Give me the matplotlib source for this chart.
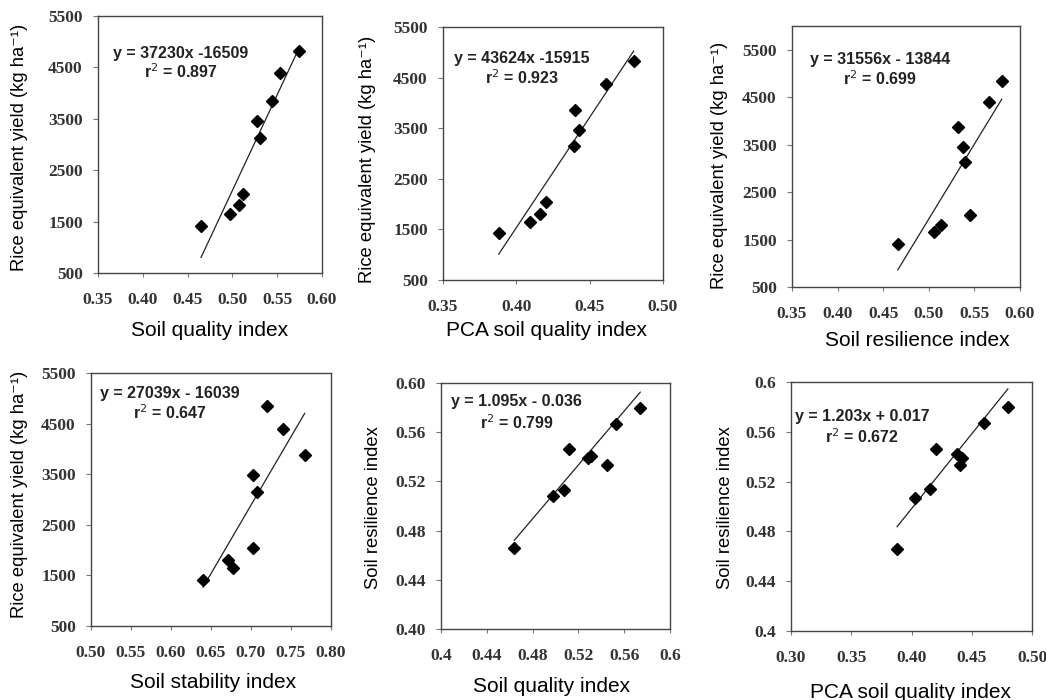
import matplotlib
matplotlib.use("Agg")
import matplotlib.pyplot as plt
import numpy as np
from matplotlib.ticker import FixedLocator, FixedFormatter

# ---------------- data ----------------
p1_x = [0.465, 0.497, 0.507, 0.512, 0.528, 0.531, 0.544, 0.553, 0.574]
p1_y = [1420, 1653, 1815, 2035, 3460, 3123, 3855, 4386, 4820]
p1_fit = (37230, -16509)
p1_eq = ["y = 37230x -16509", "r$^2$ = 0.897"]

p2_x = [0.388, 0.409, 0.416, 0.420, 0.443, 0.439, 0.440, 0.461, 0.480]
p2_y = [1423, 1654, 1806, 2050, 3455, 3139, 3864, 4372, 4820]
p2_fit = (43624, -15915)
p2_eq = ["y = 43624x -15915", "r$^2$ = 0.923"]

p3_x = [0.466, 0.506, 0.513, 0.545, 0.537, 0.540, 0.532, 0.566, 0.580]
p3_y = [1413, 1652, 1806, 2024, 3449, 3126, 3871, 4390, 4833]
p3_fit = (31556, -13844)
p3_eq = ["y = 31556x - 13844", "r$^2$ = 0.699"]

p4_x = [0.640, 0.6775, 0.671, 0.702, 0.702, 0.707, 0.767, 0.740, 0.720]
p4_y = [1408, 1645, 1803, 2033, 3480, 3151, 3875, 4401, 4842]
p4_fit = (27039, -16039)
p4_eq = ["y = 27039x - 16039", "r$^2$ = 0.647"]

p5_x = [0.464, 0.498, 0.507, 0.512, 0.528, 0.531, 0.545, 0.553, 0.574]
p5_y = [0.466, 0.508, 0.513, 0.546, 0.539, 0.541, 0.533, 0.567, 0.580]
p5_fit = (1.095, -0.036)
p5_eq = ["y = 1.095x - 0.036", "r$^2$ = 0.799"]

p6_x = [0.388, 0.403, 0.415, 0.420, 0.438, 0.442, 0.440, 0.460, 0.480]
p6_y = [0.466, 0.507, 0.514, 0.546, 0.542, 0.539, 0.533, 0.567, 0.580]
p6_fit = (1.203, 0.017)
p6_eq = ["y = 1.203x + 0.017", "r$^2$ = 0.672"]

yield_ticks = [500, 1500, 2500, 3500, 4500, 5500]
yield_labels = ["500", "1500", "2500", "3500", "4500", "5500"]
x_sqi_ticks = [0.35, 0.40, 0.45, 0.50, 0.55, 0.60]
x_sqi_labels = ["0.35", "0.40", "0.45", "0.50", "0.55", "0.60"]
x_pca_ticks = [0.35, 0.40, 0.45, 0.50]
x_pca_labels = ["0.35", "0.40", "0.45", "0.50"]
x_stab_ticks = [0.50, 0.55, 0.60, 0.65, 0.70, 0.75, 0.80]
x_stab_labels = ["0.50", "0.55", "0.60", "0.65", "0.70", "0.75", "0.80"]
sri_ticks = [0.40, 0.44, 0.48, 0.52, 0.56, 0.60]
sri_labels5 = ["0.40", "0.44", "0.48", "0.52", "0.56", "0.60"]
sri_labels6 = ["0.4", "0.44", "0.48", "0.52", "0.56", "0.6"]
x5_ticks = [0.40, 0.44, 0.48, 0.52, 0.56, 0.60]
x5_labels = ["0.4", "0.44", "0.48", "0.52", "0.56", "0.6"]
x6_ticks = [0.30, 0.35, 0.40, 0.45, 0.50]
x6_labels = ["0.30", "0.35", "0.40", "0.45", "0.50"]

ylab_yield = "Rice equivalent yield (kg ha\u207b\u00b9)"
ylab_sri = "Soil resilience index"

# ---------------- figure ----------------
W, H = 1046, 700
fig = plt.figure(figsize=(W / 100, H / 100), dpi=100)

TICK_FAMILY = "Liberation Serif"
XLABELFONT = dict(family=["Liberation Sans", "DejaVu Sans"], size=15, color="black")
YLABELFONT = dict(family=["Liberation Sans", "DejaVu Sans"], size=13.2, color="black")
EQFONT = dict(family=["Liberation Sans Narrow", "Liberation Sans"], weight="bold", size=11.5, color="#222222")


def px_axes(l, t, r, b):
    return fig.add_axes([l / W, 1 - b / H, (r - l) / W, (b - t) / H])


def panel(box, x, y, fit, eq, xlim, ylim, xt, xtl, yt, ytl, xlabel, ylabel,
          eq_pos, xlab_px, ylab_px):
    l, t, r, b = box
    ax = px_axes(l, t, r, b)
    ax.set_xlim(*xlim)
    ax.set_ylim(*ylim)
    ax.xaxis.set_major_locator(FixedLocator(xt))
    ax.xaxis.set_major_formatter(FixedFormatter(xtl))
    ax.yaxis.set_major_locator(FixedLocator(yt))
    ax.yaxis.set_major_formatter(FixedFormatter(ytl))
    for lab in ax.get_xticklabels():
        lab.set_fontfamily(TICK_FAMILY)
        lab.set_fontweight("bold")
        lab.set_fontsize(12.5)
        lab.set_color("#333333")
    for lab in ax.get_yticklabels():
        lab.set_fontfamily(TICK_FAMILY)
        lab.set_fontweight("bold")
        lab.set_fontsize(12.5)
        lab.set_color("#333333")
    ax.tick_params(axis="x", direction="out", length=3, width=0.8, color="#777777", pad=11)
    ax.tick_params(axis="y", direction="out", length=3.5, width=0.8, color="#777777", pad=7.5)
    for s in ax.spines.values():
        s.set_color("#444444")
        s.set_linewidth(1.0)
    # regression line
    xs = np.array([min(x), max(x)])
    ax.plot(xs, fit[0] * xs + fit[1], color="#222222", lw=0.9, zorder=2)
    ax.plot(x, y, linestyle="none", marker="D", markersize=6.5, color="black", zorder=3)
    ax.text(eq_pos[0], eq_pos[1], eq[0], transform=ax.transAxes, ha="center", va="center", **EQFONT)
    ax.text(eq_pos[0], eq_pos[2], eq[1], transform=ax.transAxes, ha="center", va="center", **EQFONT)
    fig.text(xlab_px[0] / W, 1 - xlab_px[1] / H, xlabel, ha="center", va="center", **XLABELFONT)
    fig.text(ylab_px[0] / W, 1 - ylab_px[1] / H, ylabel, ha="center", va="center",
             rotation=90, **YLABELFONT)
    return ax


panel((98, 16, 322, 273), p1_x, p1_y, p1_fit, p1_eq, (0.35, 0.60), (500, 5500),
      x_sqi_ticks, x_sqi_labels, yield_ticks, yield_labels,
      "Soil quality index", ylab_yield, (0.37, 0.856, 0.782), (210, 330), (20, 147))

panel((443, 27, 663, 280), p2_x, p2_y, p2_fit, p2_eq, (0.35, 0.50), (500, 5500),
      x_pca_ticks, x_pca_labels, yield_ticks, yield_labels,
      "PCA soil quality index", ylab_yield, (0.36, 0.877, 0.80), (547, 330), (368, 159))

panel((792, 26, 1020, 287), p3_x, p3_y, p3_fit, p3_eq, (0.35, 0.60), (500, 6000),
      x_sqi_ticks, x_sqi_labels, yield_ticks, yield_labels,
      "Soil resilience index", ylab_yield, (0.386, 0.87, 0.797), (917, 340), (720, 165))

panel((91, 373, 331, 626), p4_x, p4_y, p4_fit, p4_eq, (0.50, 0.80), (500, 5500),
      x_stab_ticks, x_stab_labels, yield_ticks, yield_labels,
      "Soil stability index", ylab_yield, (0.33, 0.92, 0.842), (213, 683), (20, 494))

panel((441, 383, 670, 629), p5_x, p5_y, p5_fit, p5_eq, (0.40, 0.60), (0.40, 0.60),
      x5_ticks, x5_labels, sri_ticks, sri_labels5,
      "Soil quality index", ylab_sri, (0.33, 0.923, 0.84), (552, 687), (373, 508))

panel((791, 382, 1032, 631), p6_x, p6_y, p6_fit, p6_eq, (0.30, 0.50), (0.40, 0.60),
      x6_ticks, x6_labels, sri_ticks, sri_labels6,
      "PCA soil quality index", ylab_sri, (0.295, 0.86, 0.78), (910, 692), (725, 508))

fig.savefig("out.png", dpi=100)
